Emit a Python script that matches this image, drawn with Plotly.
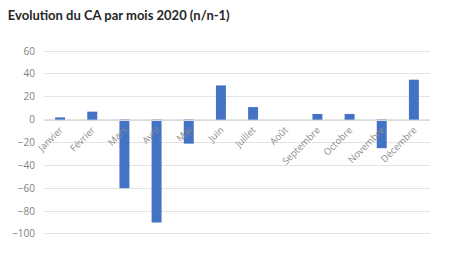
import plotly.graph_objects as go

months = ["Janvier", "Février", "Mars", "Avril", "Mai", "Juin", "Juillet",
          "Août", "Septembre", "Octobre", "Novembre", "Décembre"]
values = [2, 7, -60, -90, -21, 30, 11, 0, 5, 5, -25, 35]
yticks = [60, 40, 20, 0, -20, -40, -60, -80, -100]

ymin, ymax = -101, 61

fig = go.Figure(go.Bar(x=months, y=values, marker=dict(color="#4472C4", line=dict(width=0)),
                       width=0.31))

fig.update_layout(
    width=460, height=253,
    margin=dict(l=40, r=30, t=50, b=18),
    paper_bgcolor="white", plot_bgcolor="white",
    showlegend=False,
    title=dict(text="Evolution du CA par mois 2020 (n/n-1)", x=0.017, xanchor="left",
               y=0.94, yanchor="middle",
               font=dict(family="Lato", size=13, color="#262626", weight=700)),
    font=dict(family="Open Sans", color="#7f7f7f"),
)
fig.update_yaxes(range=[ymin, ymax], tickvals=yticks, showgrid=True, gridcolor="#e3e3e3",
                 gridwidth=1, zeroline=False, ticks="", tickfont=dict(size=10, color="#7f7f7f"),
                 ticklabelstandoff=8)
fig.update_xaxes(anchor="free", position=(0 - ymin) / (ymax - ymin), showline=True,
                 linecolor="#d9d9d9", linewidth=1, ticks="", tickangle=-45,
                 tickfont=dict(size=9.5, color="#8c8c8c"), showgrid=False)

fig.write_html("out.html")
